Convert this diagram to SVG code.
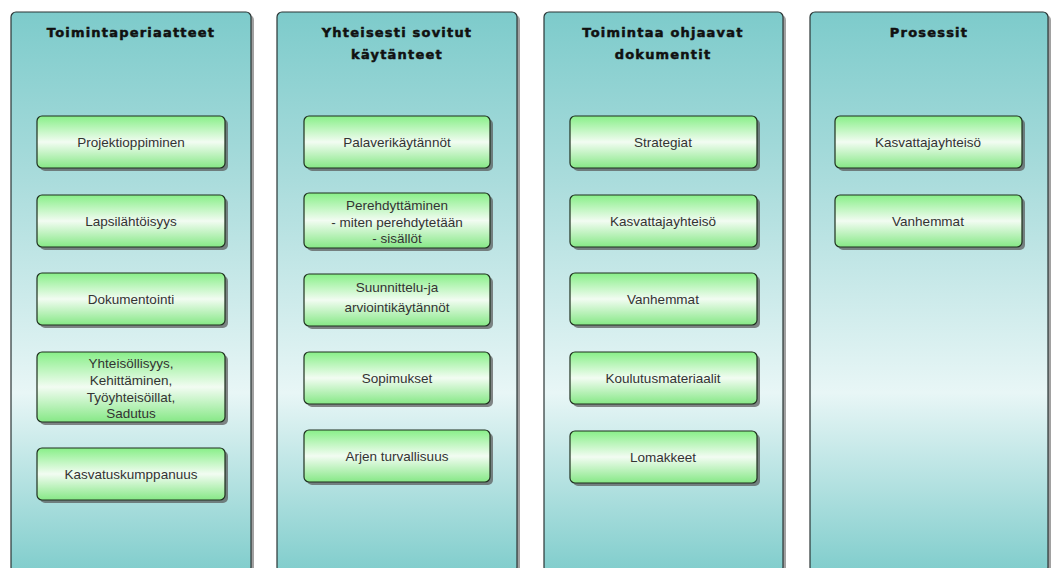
<svg xmlns="http://www.w3.org/2000/svg" width="1051" height="568" viewBox="0 0 1051 568">
<defs>
<linearGradient id="colg" x1="0" y1="0" x2="0" y2="1">
<stop offset="0" stop-color="#7dcbcb"/>
<stop offset="0.3" stop-color="#aadcdc"/>
<stop offset="0.68" stop-color="#e8f6f6"/>
<stop offset="1" stop-color="#80cdcc"/>
</linearGradient>
<linearGradient id="nodeg" x1="0" y1="0" x2="0" y2="1">
<stop offset="0" stop-color="#88ef88"/>
<stop offset="0.5" stop-color="#f2fcf2"/>
<stop offset="1" stop-color="#86e886"/>
</linearGradient>
</defs>
<style>
.col{fill:url(#colg);stroke:#2b3535;stroke-width:1.2}
.cshadow{fill:#8a8a8a;opacity:0.8}
.node{fill:url(#nodeg);stroke:#1f2f1f;stroke-width:1.2}
.nshadow{fill:#555;opacity:0.7}
.title{font-family:"DejaVu Sans","Liberation Sans",sans-serif;font-weight:bold;font-size:13px;fill:#111;stroke:#111;stroke-width:0.5;text-anchor:middle;letter-spacing:1.2px}
.lbl{font-family:"Liberation Sans",Arial,sans-serif;font-size:13.5px;fill:#333;text-anchor:middle}
</style>
<rect width="1051" height="568" fill="#ffffff"/>

<g id="col1">
<rect class="cshadow" x="14" y="15" width="240" height="560" rx="5"/>
<rect class="col" x="11" y="12" width="240" height="560" rx="5"/>
<text class="title" x="131" y="37">Toimintaperiaatteet</text>
</g>
<g id="col2">
<rect class="cshadow" x="280" y="15" width="240" height="560" rx="5"/>
<rect class="col" x="277" y="12" width="240" height="560" rx="5"/>
<text class="title" x="397" y="37">Yhteisesti sovitut</text>
<text class="title" x="397" y="59">käytänteet</text>
</g>
<g id="col3">
<rect class="cshadow" x="547" y="15" width="239" height="560" rx="5"/>
<rect class="col" x="544" y="12" width="239" height="560" rx="5"/>
<text class="title" x="663" y="37">Toimintaa ohjaavat</text>
<text class="title" x="663" y="59">dokumentit</text>
</g>
<g id="col4">
<rect class="cshadow" x="813" y="15" width="238" height="560" rx="5"/>
<rect class="col" x="810" y="12" width="238" height="560" rx="5"/>
<text class="title" x="929" y="37">Prosessit</text>
</g>

<g id="n1_1"><rect class="nshadow" x="40" y="119" width="188" height="52" rx="5"/><rect class="node" x="37" y="116" width="188" height="52" rx="5"/><text class="lbl" x="131" y="147">Projektioppiminen</text></g>
<g id="n1_2"><rect class="nshadow" x="40" y="198" width="188" height="52" rx="5"/><rect class="node" x="37" y="195" width="188" height="52" rx="5"/><text class="lbl" x="131" y="226">Lapsilähtöisyys</text></g>
<g id="n1_3"><rect class="nshadow" x="40" y="276" width="188" height="52" rx="5"/><rect class="node" x="37" y="273" width="188" height="52" rx="5"/><text class="lbl" x="131" y="304">Dokumentointi</text></g>
<g id="n1_4"><rect class="nshadow" x="40" y="355" width="188" height="70" rx="5"/><rect class="node" x="37" y="352" width="188" height="70" rx="5"/>
<text class="lbl" x="131" y="368">Yhteisöllisyys,</text><text class="lbl" x="131" y="385">Kehittäminen,</text><text class="lbl" x="131" y="402">Työyhteisöillat,</text><text class="lbl" x="131" y="418">Sadutus</text></g>
<g id="n1_5"><rect class="nshadow" x="40" y="451" width="188" height="52" rx="5"/><rect class="node" x="37" y="448" width="188" height="52" rx="5"/><text class="lbl" x="131" y="479">Kasvatuskumppanuus</text></g>

<g id="n2_1"><rect class="nshadow" x="307" y="119" width="186" height="52" rx="5"/><rect class="node" x="304" y="116" width="186" height="52" rx="5"/><text class="lbl" x="397" y="147">Palaverikäytännöt</text></g>
<g id="n2_2"><rect class="nshadow" x="307" y="196" width="186" height="55" rx="5"/><rect class="node" x="304" y="193" width="186" height="55" rx="5"/>
<text class="lbl" x="397" y="210">Perehdyttäminen</text><text class="lbl" x="397" y="227">- miten perehdytetään</text><text class="lbl" x="397" y="243">- sisällöt</text></g>
<g id="n2_3"><rect class="nshadow" x="307" y="277" width="186" height="52" rx="5"/><rect class="node" x="304" y="274" width="186" height="52" rx="5"/>
<text class="lbl" x="397" y="292">Suunnittelu-ja</text><text class="lbl" x="397" y="312">arviointikäytännöt</text></g>
<g id="n2_4"><rect class="nshadow" x="307" y="355" width="186" height="52" rx="5"/><rect class="node" x="304" y="352" width="186" height="52" rx="5"/><text class="lbl" x="397" y="383">Sopimukset</text></g>
<g id="n2_5"><rect class="nshadow" x="307" y="433" width="186" height="52" rx="5"/><rect class="node" x="304" y="430" width="186" height="52" rx="5"/><text class="lbl" x="397" y="461">Arjen turvallisuus</text></g>

<g id="n3_1"><rect class="nshadow" x="573" y="119" width="187" height="52" rx="5"/><rect class="node" x="570" y="116" width="187" height="52" rx="5"/><text class="lbl" x="663" y="147">Strategiat</text></g>
<g id="n3_2"><rect class="nshadow" x="573" y="198" width="187" height="52" rx="5"/><rect class="node" x="570" y="195" width="187" height="52" rx="5"/><text class="lbl" x="663" y="226">Kasvattajayhteisö</text></g>
<g id="n3_3"><rect class="nshadow" x="573" y="276" width="187" height="52" rx="5"/><rect class="node" x="570" y="273" width="187" height="52" rx="5"/><text class="lbl" x="663" y="304">Vanhemmat</text></g>
<g id="n3_4"><rect class="nshadow" x="573" y="355" width="187" height="52" rx="5"/><rect class="node" x="570" y="352" width="187" height="52" rx="5"/><text class="lbl" x="663" y="383">Koulutusmateriaalit</text></g>
<g id="n3_5"><rect class="nshadow" x="573" y="434" width="187" height="52" rx="5"/><rect class="node" x="570" y="431" width="187" height="52" rx="5"/><text class="lbl" x="663" y="462">Lomakkeet</text></g>

<g id="n4_1"><rect class="nshadow" x="838" y="119" width="187" height="52" rx="5"/><rect class="node" x="835" y="116" width="187" height="52" rx="5"/><text class="lbl" x="928" y="147">Kasvattajayhteisö</text></g>
<g id="n4_2"><rect class="nshadow" x="838" y="198" width="187" height="52" rx="5"/><rect class="node" x="835" y="195" width="187" height="52" rx="5"/><text class="lbl" x="928" y="226">Vanhemmat</text></g>

<g id="connectors"></g>
</svg>
